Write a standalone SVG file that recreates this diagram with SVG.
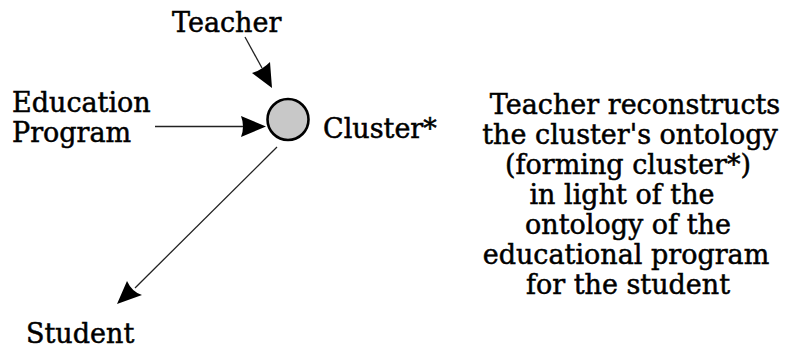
<svg xmlns="http://www.w3.org/2000/svg" width="786" height="350" viewBox="0 0 786 350">
<style>
text{font-family:"DejaVu Serif",serif;font-size:27px;fill:#000;stroke:#000;stroke-width:0.5}
.ln{stroke:#222;stroke-width:1.3;fill:none}
.ah{fill:#000}
</style>
<rect width="786" height="350" fill="#fff"/>
<g id="connectors">
<line class="ln" x1="155" y1="126.5" x2="244" y2="126.5"/>
<path class="ah" d="M241,116 L266,126.5 L241,137 Q245,126.5 241,116 Z"/>
<line class="ln" x1="245" y1="37" x2="262" y2="68"/>
<path class="ah" d="M252,73 L272,88 L270,62 Q262,70 252,73 Z"/>
<line class="ln" x1="277" y1="147" x2="135" y2="288"/>
<path class="ah" d="M127,281 L117,304 L142,295 Q132,292 127,281 Z"/>
</g>
<g id="cluster">
<circle cx="288" cy="119.5" r="20.5" fill="#c8c8c8" stroke="#000" stroke-width="2.6"/>
<text x="323" y="138">Cluster*</text>
</g>
<g id="teacher"><text x="172" y="32">Teacher</text></g>
<g id="education"><text x="12" y="112">Education</text><text x="12" y="142">Program</text></g>
<g id="student"><text x="26" y="343">Student</text></g>
<g id="note" text-anchor="middle">
<text x="635" y="114">Teacher reconstructs</text>
<text x="630" y="144">the cluster's ontology</text>
<text x="628" y="174">(forming cluster*)</text>
<text x="622" y="204">in light of the</text>
<text x="628" y="234">ontology of the</text>
<text x="626" y="264">educational program</text>
<text x="628" y="294">for the student</text>
</g>
</svg>
